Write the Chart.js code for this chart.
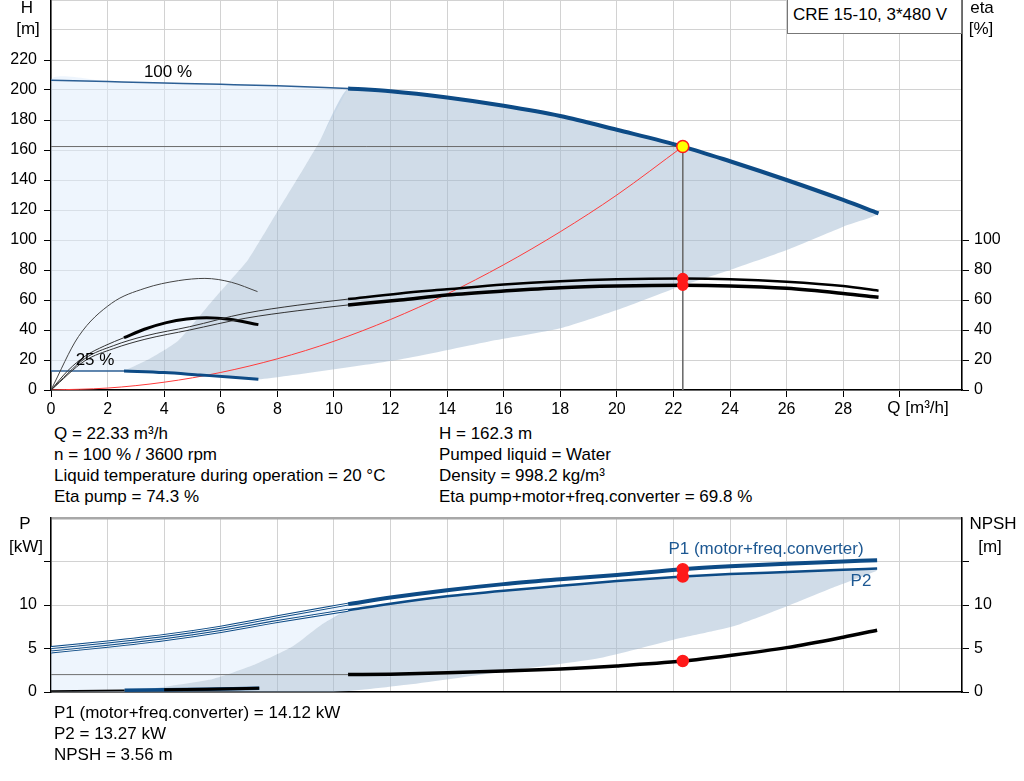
<!DOCTYPE html>
<html>
<head>
<meta charset="utf-8">
<script src="https://cdn.jsdelivr.net/npm/chart.js@4.4.0/dist/chart.umd.min.js"></script>
<style>
  body { margin: 0; width: 1024px; height: 781px; background: #fff; position: relative; overflow: hidden;
         font-family: "Liberation Sans", Arial, sans-serif; color: #000; }
  canvas { position: absolute; left: 0; }
  .t { position: absolute; font-size: 17px; line-height: 20px; white-space: nowrap; }
  .c { position: absolute; font-size: 17px; line-height: 20px; white-space: nowrap; width: 300px; text-align: center; }
  .box { position: absolute; left: 787px; top: -1px; width: 173px; height: 33px; border: 1px solid #777; background: #fff; }
</style>
</head>
<body>
<canvas id="qh" width="1024" height="420" style="top:0"></canvas>
<canvas id="pw" width="1024" height="200" style="top:510px"></canvas>

<div class="box"></div>
<div class="t" style="left:793px;top:5px">CRE 15-10, 3*480 V</div>

<div class="c" style="left:-123px;top:-2px">H</div>
<div class="c" style="left:-122px;top:19px">[m]</div>
<div class="c" style="left:832px;top:-2px">eta</div>
<div class="c" style="left:831px;top:19px">[%]</div>
<div class="c" style="left:768px;top:398px">Q [m³/h]</div>
<div class="c" style="left:18px;top:62px">100 %</div>
<div class="c" style="left:-55px;top:350px">25 %</div>

<div class="t" style="left:54px;top:424px">Q = 22.33 m³/h</div>
<div class="t" style="left:54px;top:445px">n = 100 % / 3600 rpm</div>
<div class="t" style="left:54px;top:466px">Liquid temperature during operation = 20 °C</div>
<div class="t" style="left:54px;top:487px">Eta pump = 74.3 %</div>
<div class="t" style="left:439px;top:424px">H = 162.3 m</div>
<div class="t" style="left:439px;top:445px">Pumped liquid = Water</div>
<div class="t" style="left:439px;top:466px">Density = 998.2 kg/m³</div>
<div class="t" style="left:439px;top:487px">Eta pump+motor+freq.converter = 69.8 %</div>

<div class="c" style="left:-125px;top:514px">P</div>
<div class="c" style="left:-124px;top:537px">[kW]</div>
<div class="c" style="left:843px;top:514px">NPSH</div>
<div class="c" style="left:840px;top:537px">[m]</div>
<div class="c" style="left:616px;top:539px;color:#1d5892">P1 (motor+freq.converter)</div>
<div class="c" style="left:711px;top:571px;color:#1d5892">P2</div>

<div class="t" style="left:54px;top:703px">P1 (motor+freq.converter) = 14.12 kW</div>
<div class="t" style="left:54px;top:724px">P2 = 13.27 kW</div>
<div class="t" style="left:54px;top:745px">NPSH = 3.56 m</div>

<script>
// ---- Q-H diagram (Q in m³/h, H in m, eta in %) ----
const qH100Thin = [0, 2, 4, 6, 8, 10.5];
const hH100Thin = [206.5, 205.6, 204.7, 203.8, 202.8, 201];
const qH100 = [10.5, 12, 14, 16, 18, 20, 22.33, 24, 26, 28, 29.25];
const hH100 = [201, 199.2, 195, 189.5, 182.7, 173.5, 162.3, 152.5, 140, 126.7, 117.8];
const qH25Thin = [0, 2.58];
const hH25Thin = [12.7, 12.7];
const qH25 = [2.58, 4, 5.27, 6.3, 7.33];
const hH25 = [12.7, 11.6, 10, 8.7, 7.1];

// edges of the dark (recommended) area
const qEdgeLeft = [2.58, 3.5, 4.5, 5.68, 6.38, 6.97, 7.97, 9.0, 9.5, 10.5];
const hEdgeLeft = [12.7, 21, 33, 59, 74, 87, 118, 150, 166, 201];
const qEdgeLow = [29.25, 28, 26, 24, 22.2, 20, 18, 15.44, 12.33, 7.33];
const hEdgeLow = [117.8, 108.9, 93.3, 80, 68.9, 53.3, 41.1, 32.2, 20.4, 7.1];

// efficiency curves
const qEtaThin = [0, 1.2, 2.2, 3.32, 4.9, 6.86, 8.7, 10.5];
const etaPumpThin = [0, 21, 29.5, 36, 42.2, 51.1, 56.5, 60.6];
const etaTotThin = [0, 19.5, 27.5, 33.8, 40, 47.8, 52.8, 56.7];
const qEta = [10.5, 12.33, 14, 16, 18, 20, 22.33, 24, 26, 28, 29.25];
const etaPump = [60.6, 64.4, 67.1, 70.3, 72.5, 73.8, 74.3, 73.9, 72.2, 69.3, 66.2];
const etaTot = [56.7, 60, 63.3, 66, 68.2, 69.3, 69.8, 69.4, 67.8, 64.4, 61.8];
const qEtaPump25 = [0, 0.97, 2.14, 3.32, 4.5, 5.44, 6.38, 7.3];
const etaPump25 = [0, 35.6, 57.8, 67.8, 72.9, 74.4, 71.8, 65.6];
const qEtaTot25Thin = [0, 0.6, 1.2, 1.9, 2.58];
const etaTot25Thin = [0, 13, 22.5, 29.5, 34.9];
const qEtaTot25 = [2.58, 3.3, 4.08, 4.8, 5.5, 6.3, 7.33];
const etaTot25 = [34.9, 40.5, 44.9, 47.3, 48.2, 47.2, 43.6];

// system curve
const qSys = [0, 2, 4, 6, 8, 10, 12, 14, 16, 18, 20, 22.33];
const hSys = [0, 1.3, 5.2, 11.7, 20.8, 32.5, 47, 64, 83.5, 105.5, 130, 162.3];

// duty point
const opQ = 22.33, opH = 162.3, opEtaPump = 74.3, opEtaTot = 69.8;

// ---- power / NPSH diagram ----
const qPThin = [0, 2, 4, 6, 8, 10.5];
const p1Thin = [5.1, 5.75, 6.5, 7.45, 8.65, 10.1];
const p2Thin = [4.6, 5.25, 6.0, 6.95, 8.1, 9.4];
const qP = [10.5, 12, 14, 16, 18, 20, 22.33, 24, 26, 28, 29.2];
const p1 = [10.1, 10.85, 11.7, 12.4, 12.95, 13.45, 14.12, 14.45, 14.75, 15.0, 15.15];
const p2 = [9.4, 10.15, 11.0, 11.65, 12.2, 12.75, 13.27, 13.55, 13.8, 14.05, 14.19];
const qNpshThin = [0, 10.5];
const npshThin = [2.0, 2.0];
const npsh = [2.0, 2.05, 2.2, 2.4, 2.65, 3.0, 3.56, 4.2, 5.1, 6.3, 7.1];
const qP25Thin = [0, 2.6];
const p25Thin = [0.12, 0.2];
const qP25 = [2.6, 4, 5.5, 7.36];
const p25 = [0.2, 0.25, 0.32, 0.42];
const qPEdgeLeft = [2.67, 4.2, 5.72, 7.15, 8.56, 9.5, 10.5];
const pPEdgeLeft = [0, 0.7, 1.5, 3.1, 5.3, 7.6, 9.4];
const qPEdgeLow = [29.17, 27.65, 25.9, 24.35, 23.4, 22.0, 19.4, 16.2, 12.57, 9.98];
const pPEdgeLow = [13.9, 12.0, 9.7, 7.8, 7.0, 6.0, 3.9, 2.45, 0.83, 0];
const opP1 = 14.12, opP2 = 13.27, opNpsh = 3.56;

const BLUE = '#0d4b86';
const FONT = { family: 'Liberation Sans, Arial, sans-serif', size: 16 };

const pts = (xs, ys) => xs.map((x, i) => ({ x: x, y: ys[i] }));
const rev = a => a.slice().reverse();

function curve(xs, ys, color, width, axis, order, straight) {
  return {
    data: pts(xs, ys), showLine: true, borderColor: color, borderWidth: width,
    pointRadius: 0, yAxisID: axis, order: order, fill: false,
    tension: straight ? 0 : 0.4, cubicInterpolationMode: straight ? 'default' : 'monotone'
  };
}
function area(points, color, axis, order) {
  return {
    data: points, showLine: true, borderWidth: 0, borderColor: 'rgba(0,0,0,0)', backgroundColor: color,
    fill: 'shape', pointRadius: 0, yAxisID: axis, order: order, tension: 0.2
  };
}
function dot(x, y, color, border, r, axis) {
  return {
    data: [{ x: x, y: y }], showLine: false, pointRadius: r, pointBackgroundColor: color,
    pointBorderColor: border, pointBorderWidth: 1.5, yAxisID: axis, order: 0
  };
}

const LIGHT = 'rgba(221,235,251,0.5)';
const DARK = 'rgba(161,185,209,0.5)';

const lightTop = [{ x: 0, y: hH25Thin[0] }].concat(pts(qH100Thin, hH100Thin), rev(pts(qEdgeLeft, hEdgeLeft)));
const darkTop = pts(qEdgeLeft, hEdgeLeft).concat(pts(qH100, hH100).slice(1), pts(qEdgeLow, hEdgeLow).slice(1), rev(pts(qH25, hH25)).slice(1));

const lightBot = [{ x: 0, y: 0 }].concat(pts(qPThin, p1Thin), rev(pts(qPEdgeLeft, pPEdgeLeft)));
const darkBot = pts(qPEdgeLeft, pPEdgeLeft).concat(pts(qP, p2).slice(1), pts(qPEdgeLow, pPEdgeLow), [{ x: qPEdgeLeft[0], y: 0 }]);

const fixSide = w => s => { s.width = w; s.paddingTop = 0; s.paddingBottom = 0; };
const fixBottom = h => s => { s.height = h; s.paddingLeft = 0; s.paddingRight = 0; };

new Chart(document.getElementById('qh'), {
  type: 'scatter',
  data: {
    datasets: [
      area(lightTop, LIGHT, 'y', 20),
      area(darkTop, DARK, 'y', 19),
      curve([0, opQ], [opH, opH], '#6b6b6b', 1, 'y', 15, true),
      curve([opQ, opQ], [opH, 0], '#6b6b6b', 1, 'y', 15, true),
      curve(qSys, hSys, '#ff3b3b', 1, 'y', 12),
      curve(qH100Thin, hH100Thin, '#2c5f95', 1.5, 'y', 10),
      curve(qH100, hH100, BLUE, 4, 'y', 10),
      curve(qH25Thin, hH25Thin, '#2c5f95', 1.5, 'y', 10, true),
      curve(qH25, hH25, BLUE, 3, 'y', 10),
      curve(qEtaThin, etaPumpThin, '#333', 1, 'y2', 9),
      curve(qEtaThin, etaTotThin, '#333', 1, 'y2', 9),
      curve(qEta, etaPump, '#000', 2.5, 'y2', 9),
      curve(qEta, etaTot, '#000', 3.5, 'y2', 9),
      curve(qEtaPump25, etaPump25, '#444', 1, 'y2', 9),
      curve(qEtaTot25Thin, etaTot25Thin, '#333', 1, 'y2', 9),
      curve(qEtaTot25, etaTot25, '#000', 3, 'y2', 9),
      dot(opQ, opEtaPump, '#ff1a1a', '#ff1a1a', 5, 'y2'),
      dot(opQ, opEtaTot, '#ff1a1a', '#ff1a1a', 5, 'y2'),
      dot(opQ, opH, '#ffff00', '#ff1a1a', 6, 'y')
    ]
  },
  options: {
    responsive: false, animation: false, events: [],
    layout: { padding: 0, autoPadding: false },
    plugins: { legend: { display: false }, tooltip: { enabled: false } },
    scales: {
      x: {
        type: 'linear', min: 0, max: 32.2, afterFit: fixBottom(30),
        ticks: { stepSize: 2, color: '#000', font: FONT, padding: 3, maxRotation: 0,
                 callback: v => (v <= 28 ? v : '') },
        grid: { color: '#d2d2d2', tickLength: 7,
                tickColor: c => (c.tick && c.tick.value <= 32 ? '#000' : 'rgba(0,0,0,0)') },
        border: { color: '#000', width: 1.5 }
      },
      y: {
        position: 'left', min: 0, max: 260, afterFit: fixSide(51),
        ticks: { stepSize: 20, color: '#000', font: FONT, padding: 7,
                 callback: v => (v <= 220 ? v : '') },
        grid: { color: '#d2d2d2', tickLength: 7,
                tickColor: c => (c.tick && c.tick.value <= 220 ? '#000' : 'rgba(0,0,0,0)') },
        border: { color: '#000', width: 1.5 }
      },
      y2: {
        position: 'right', min: 0, max: 260, afterFit: fixSide(62),
        ticks: { stepSize: 20, color: '#000', font: FONT, padding: 5,
                 callback: v => (v <= 100 ? v : '') },
        grid: { drawOnChartArea: false, tickLength: 7,
                tickColor: c => (c.tick && c.tick.value <= 100 ? '#000' : 'rgba(0,0,0,0)') },
        border: { color: '#000', width: 1.5 }
      }
    }
  }
});

new Chart(document.getElementById('pw'), {
  type: 'scatter',
  data: {
    datasets: [
      area(lightBot, LIGHT, 'y', 20),
      area(darkBot, DARK, 'y', 19),
      curve(qNpshThin, npshThin, '#707070', 1, 'y2', 12, true),
      curve(qP, npsh, '#000', 3.5, 'y2', 10),
      curve(qPThin, p1Thin, BLUE, 3, 'y', 10),
      curve(qPThin, p1Thin, '#ffffff', 1, 'y', 9),
      curve(qPThin, p2Thin, BLUE, 3, 'y', 10),
      curve(qPThin, p2Thin, '#ffffff', 1, 'y', 9),
      curve(qP, p1, BLUE, 4, 'y', 10),
      curve(qP, p2, BLUE, 2.5, 'y', 10),
      curve(qP25Thin, p25Thin, '#000', 1.5, 'y', 10, true),
      curve(qP25, p25, BLUE, 3.5, 'y', 10, true),
      curve(qP25.slice(1), p25.slice(1), '#000', 3, 'y', 9, true),
      dot(opQ, opP1, '#ff1a1a', '#ff1a1a', 5.5, 'y'),
      dot(opQ, opP2, '#ff1a1a', '#ff1a1a', 5.5, 'y'),
      dot(opQ, opNpsh, '#ff1a1a', '#ff1a1a', 5.5, 'y2')
    ]
  },
  options: {
    responsive: false, animation: false, events: [],
    layout: { padding: { top: 8 }, autoPadding: false },
    plugins: { legend: { display: false }, tooltip: { enabled: false } },
    scales: {
      x: {
        type: 'linear', min: 0, max: 32.2, afterFit: fixBottom(18),
        ticks: { stepSize: 2, display: false },
        grid: { color: '#d2d2d2', drawTicks: false },
        border: { color: '#000', width: 1.5 }
      },
      y: {
        position: 'left', min: 0, max: 20, afterFit: fixSide(51),
        ticks: { stepSize: 5, color: '#000', font: FONT, padding: 7,
                 callback: v => (v <= 10 ? v : '') },
        grid: { color: c => (c.tick && c.tick.value === 20 ? '#a8a8a8' : '#d2d2d2'),
                lineWidth: c => (c.tick && c.tick.value === 20 ? 2.5 : 1),
                tickLength: 7,
                tickColor: c => (c.tick && c.tick.value <= 15 ? '#000' : 'rgba(0,0,0,0)') },
        border: { color: '#000', width: 1.5 }
      },
      y2: {
        position: 'right', min: 0, max: 20, afterFit: fixSide(62),
        ticks: { stepSize: 5, color: '#000', font: FONT, padding: 5,
                 callback: v => (v <= 10 ? v : '') },
        grid: { drawOnChartArea: false, tickLength: 7,
                tickColor: c => (c.tick && c.tick.value <= 15 ? '#000' : 'rgba(0,0,0,0)') },
        border: { color: '#000', width: 1.5 }
      }
    }
  }
});
</script>
</body>
</html>
